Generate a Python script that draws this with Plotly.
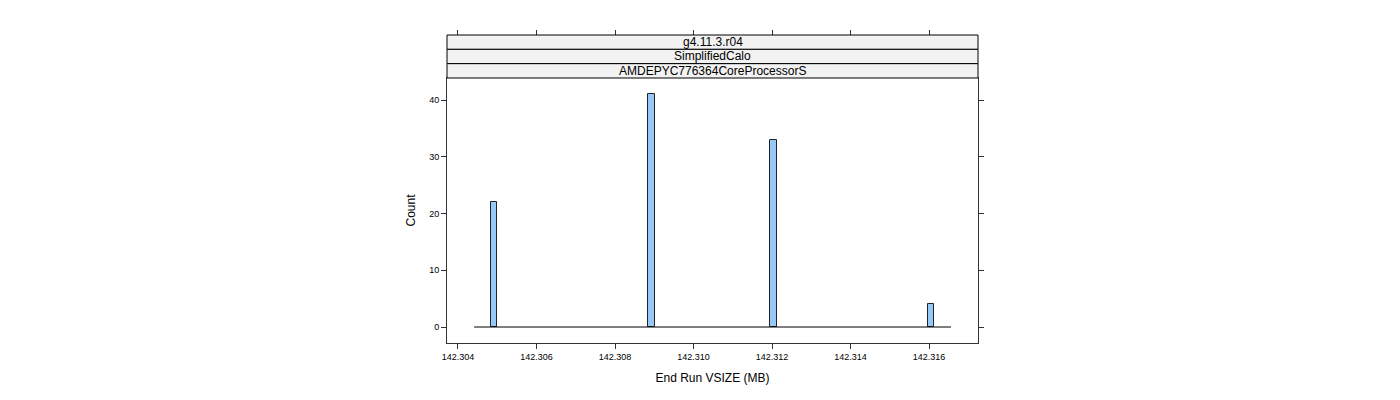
import plotly.graph_objects as go

# Data
bin_centers = [142.30491, 142.30893, 142.31204, 142.31605]
counts = [22, 41, 33, 4]
bin_width = 0.00016
hist_span = [142.30441, 142.31656]  # extent of the histogram bins (empty bins drawn flat)
x_ticks = [142.304, 142.306, 142.308, 142.310, 142.312, 142.314, 142.316]
x_tick_labels = ["142.304", "142.306", "142.308", "142.310", "142.312", "142.314", "142.316"]
y_ticks = [0, 10, 20, 30, 40]
strip_labels = ["g4.11.3.r04", "SimplifiedCalo", "AMDEPYC776364CoreProcessorS"]

x_range = [142.30372, 142.317248]
y_range = [-2.82, 43.88]

FONT = "Liberation Sans, Arial, sans-serif"
AX = "#333333"

fig = go.Figure()

# zero-height bins as a flat line
fig.add_trace(go.Scatter(
    x=hist_span, y=[0, 0], mode="lines",
    line=dict(color="black", width=1), hoverinfo="skip", showlegend=False,
))

fig.add_trace(go.Bar(
    x=bin_centers, y=counts, width=bin_width,
    marker=dict(color="#96c8fa", line=dict(color="#222222", width=1)),
    showlegend=False,
))

panel_top = (343 - 78) / (343 - 35)

fig.update_layout(
    width=1400, height=400,
    margin=dict(l=439, r=430, t=27, b=65, pad=0),
    paper_bgcolor="white", plot_bgcolor="white",
    font=dict(family=FONT, color="black"),
    bargap=0,
    xaxis=dict(
        range=x_range, domain=[0, 1],
        tickvals=x_ticks, ticktext=x_tick_labels,
        ticks="outside", ticklen=5, tickcolor=AX, tickwidth=1,
        showline=True, linecolor=AX, linewidth=1, mirror=True,
        showgrid=False, zeroline=False,
        tickfont=dict(size=9, family=FONT),
        title=dict(text="End Run VSIZE (MB)", font=dict(size=12, family=FONT), standoff=12),
    ),
    xaxis2=dict(
        range=x_range, overlaying="x", side="top", anchor="free", position=1,
        tickvals=x_ticks, showticklabels=False,
        ticks="outside", ticklen=5, tickcolor=AX, tickwidth=1,
        showline=False, showgrid=False, zeroline=False,
    ),
    yaxis=dict(
        range=y_range, domain=[0, panel_top],
        tickvals=y_ticks, ticks="outside", ticklen=5, tickcolor=AX, tickwidth=1,
        showline=True, linecolor=AX, linewidth=1, mirror="ticks",
        showgrid=False, zeroline=False,
        tickfont=dict(size=9, family=FONT),
        title=dict(text="Count", font=dict(size=12, family=FONT), standoff=10),
    ),
)

# dummy trace to show xaxis2
fig.add_trace(go.Scatter(x=[x_range[0]], y=[None], xaxis="x2", yaxis="y",
                         mode="markers", showlegend=False, hoverinfo="skip"))

# strips
n = len(strip_labels)
h = (1 - panel_top) / n
for i, lab in enumerate(strip_labels):
    y1 = 1 - i * h
    y0 = y1 - h
    fig.add_shape(type="rect", xref="paper", yref="paper", x0=0, x1=1, y0=y0, y1=y1,
                  fillcolor="#f2f2f2", line=dict(color="black", width=1), layer="above")
    fig.add_annotation(x=0.5, y=(y0 + y1) / 2, xref="paper", yref="paper", text=lab,
                       showarrow=False, font=dict(size=12, family=FONT, color="black"),
                       xanchor="center", yanchor="middle")

fig.write_html("out.html")
